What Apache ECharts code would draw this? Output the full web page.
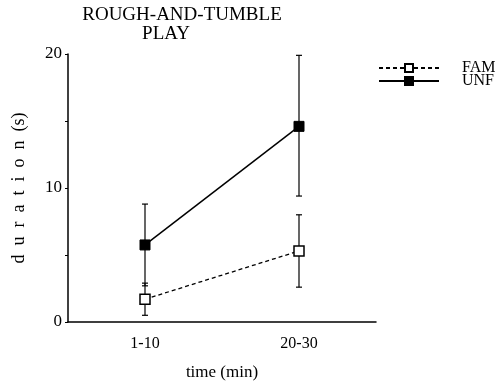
<!DOCTYPE html>
<html>
<head>
    <meta charset="utf-8">
    <script src="https://cdn.jsdelivr.net/npm/echarts@6/dist/echarts.min.js"></script>
</head>
<body style="margin:0">
<div id="main" style="width: 500px;height:381px;"></div>
<script type="text/javascript">
    // data
    var categories = ['1-10', '20-30'];
    var famMean = [1.7, 5.3];
    var famLow = [0.5, 2.6];
    var famHigh = [2.9, 8.0];
    var unfMean = [5.75, 14.6];
    var unfLow = [2.7, 9.4];
    var unfHigh = [8.8, 19.9];
    var yTickLabels = [0, 10, 20];

    var serif = '"Liberation Serif", "DejaVu Serif", serif';

    function errData(low, high) {
        return categories.map(function (c, i) { return [i, low[i], high[i]]; });
    }

    // vertical error bar with small caps
    function renderErr(params, api) {
        var x = api.value(0);
        var lo = api.coord([x, api.value(1)]);
        var hi = api.coord([x, api.value(2)]);
        var w = 3;
        var st = { stroke: '#000', lineWidth: 1.2 };
        return {
            type: 'group',
            children: [
                { type: 'line', shape: { x1: lo[0], y1: lo[1], x2: hi[0], y2: hi[1] }, style: st },
                { type: 'line', shape: { x1: lo[0] - w, y1: lo[1], x2: lo[0] + w, y2: lo[1] }, style: st },
                { type: 'line', shape: { x1: hi[0] - w, y1: hi[1], x2: hi[0] + w, y2: hi[1] }, style: st }
            ]
        };
    }

    var myChart = echarts.init(document.getElementById('main'));

    var option = {
        backgroundColor: '#fff',
        animation: false,
        title: [
            { text: 'ROUGH-AND-TUMBLE', left: 182, top: 6, textAlign: 'center', padding: 0,
              textStyle: { fontFamily: serif, fontSize: 19, fontWeight: 'normal', color: '#000' } },
            { text: 'PLAY', left: 166, top: 25, textAlign: 'center', padding: 0,
              textStyle: { fontFamily: serif, fontSize: 19, fontWeight: 'normal', color: '#000' } }
        ],
        legend: {
            orient: 'vertical',
            left: 378,
            top: 60,
            padding: 0,
            itemWidth: 60,
            itemHeight: 10,
            itemGap: -3,
            data: ['FAM', 'UNF'],
            textStyle: { fontFamily: serif, fontSize: 16, color: '#000', padding: [2, 0, 0, 18] }
        },
        grid: { left: 68, right: 124, top: 54, bottom: 59, outerBoundsMode: 'none' },
        xAxis: {
            type: 'category',
            data: categories,
            name: 'time (min)',
            nameLocation: 'middle',
            nameGap: 42,
            nameTextStyle: { fontFamily: serif, fontSize: 17, color: '#000' },
            axisLine: { lineStyle: { color: '#000', width: 1.5 } },
            axisTick: { length: 3, lineStyle: { color: '#000' } },
            axisLabel: { fontFamily: serif, fontSize: 16, color: '#000', margin: 14 }
        },
        yAxis: {
            type: 'value',
            min: 0,
            max: 20,
            interval: 5,
            name: 'd  u  r  a  t  i  o  n  (s)',
            nameLocation: 'middle',
            nameGap: 40,
            nameTextStyle: { fontFamily: serif, fontSize: 18, color: '#000' },
            splitLine: { show: false },
            axisLine: { show: true, lineStyle: { color: '#000', width: 1.5 } },
            axisTick: { show: true, length: 3, lineStyle: { color: '#000' } },
            axisLabel: {
                fontFamily: serif, fontSize: 17, color: '#000', margin: 6,
                formatter: function (v) { return yTickLabels.indexOf(v) >= 0 ? String(v) : ''; }
            }
        },
        series: [
            {
                type: 'custom',
                renderItem: renderErr,
                encode: { x: 0, y: [1, 2] },
                data: errData(famLow, famHigh),
                z: 1
            },
            {
                type: 'custom',
                renderItem: renderErr,
                encode: { x: 0, y: [1, 2] },
                data: errData(unfLow, unfHigh),
                z: 1
            },
            {
                name: 'FAM',
                type: 'line',
                data: famMean,
                symbol: 'rect',
                symbolSize: 10,
                lineStyle: { color: '#000', width: 1.3, type: [4, 3] },
                itemStyle: { color: '#fff', borderColor: '#000', borderWidth: 1.5 },
                z: 3
            },
            {
                name: 'UNF',
                type: 'line',
                data: unfMean,
                symbol: 'rect',
                symbolSize: 10,
                lineStyle: { color: '#000', width: 1.5 },
                itemStyle: { color: '#000', borderColor: '#000', borderWidth: 1 },
                z: 3
            }
        ]
    };

    myChart.setOption(option);
</script>
</body>
</html>
